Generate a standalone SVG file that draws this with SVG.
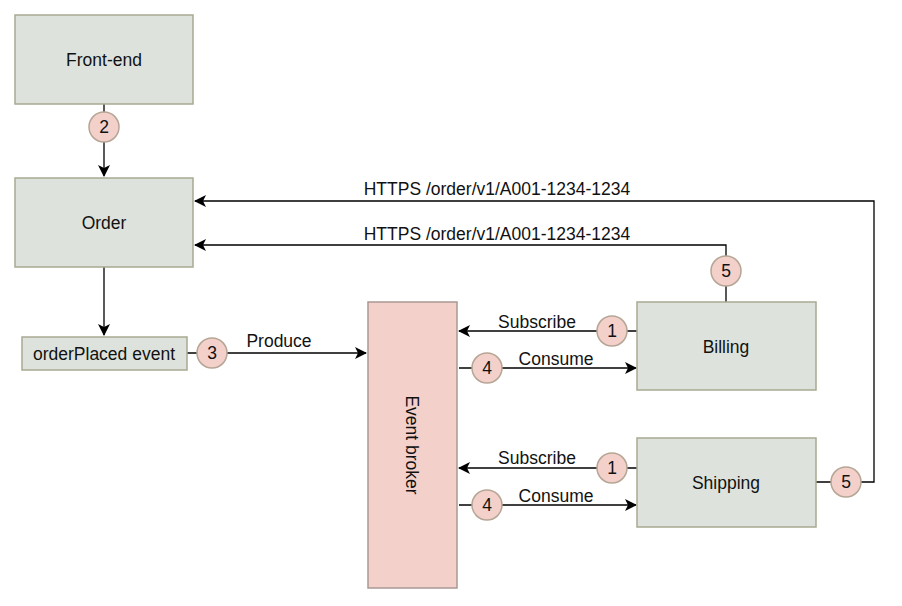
<svg xmlns="http://www.w3.org/2000/svg" width="902" height="606" viewBox="0 0 902 606">
<defs>
<marker id="arr" markerWidth="12" markerHeight="12" refX="11" refY="6" orient="auto" markerUnits="userSpaceOnUse">
<path d="M0,0 L12,6 L0,12 L3,6 Z" fill="#000"/>
</marker>
<style>
.box{fill:#dde3dc;stroke:#a9a991;stroke-width:1.5}
.broker{fill:#f4d0cb;stroke:#a99894;stroke-width:1.5}
.badge{fill:#f4d0cb;stroke:#b5a595;stroke-width:1.5}
.t{font-family:"Liberation Sans",Arial,sans-serif;font-size:17.5px;fill:#111;text-anchor:middle;dominant-baseline:central}
.edge{fill:none;stroke:#000;stroke-width:1.3}
</style>
</defs>
<rect width="902" height="606" fill="#fff"/>
<g id="connectors">
<path class="edge" d="M104,104 V176" marker-end="url(#arr)"/>
<path class="edge" d="M104,267 V335" marker-end="url(#arr)"/>
<path class="edge" d="M187,353 H366" marker-end="url(#arr)"/>
<path class="edge" d="M637,331 H459" marker-end="url(#arr)"/>
<path class="edge" d="M459,368 H636" marker-end="url(#arr)"/>
<path class="edge" d="M637,468 H459" marker-end="url(#arr)"/>
<path class="edge" d="M459,505 H636" marker-end="url(#arr)"/>
<path class="edge" d="M726,302 V245 H195" marker-end="url(#arr)"/>
<path class="edge" d="M816,482 H874 V201 H195" marker-end="url(#arr)"/>
<text class="t" x="279" y="341">Produce</text>
<text class="t" x="537" y="322">Subscribe</text>
<text class="t" x="556" y="359">Consume</text>
<text class="t" x="537" y="458">Subscribe</text>
<text class="t" x="556" y="496">Consume</text>
<text class="t" x="497" y="189">HTTPS /order/v1/A001-1234-1234</text>
<text class="t" x="497" y="234">HTTPS /order/v1/A001-1234-1234</text>
<g id="badge2"><circle class="badge" cx="104" cy="127" r="15"/><text class="t" x="104" y="127">2</text></g>
<g id="badge3"><circle class="badge" cx="212" cy="353" r="15"/><text class="t" x="212" y="353">3</text></g>
<g id="badge1a"><circle class="badge" cx="612" cy="331" r="15"/><text class="t" x="612" y="331">1</text></g>
<g id="badge4a"><circle class="badge" cx="487" cy="368" r="15"/><text class="t" x="487" y="368">4</text></g>
<g id="badge1b"><circle class="badge" cx="612" cy="468" r="15"/><text class="t" x="612" y="468">1</text></g>
<g id="badge4b"><circle class="badge" cx="487" cy="505" r="15"/><text class="t" x="487" y="505">4</text></g>
<g id="badge5a"><circle class="badge" cx="726" cy="271" r="15"/><text class="t" x="726" y="271">5</text></g>
<g id="badge5b"><circle class="badge" cx="846" cy="482" r="15"/><text class="t" x="846" y="482">5</text></g>
</g>
<g id="frontend"><rect class="box" x="15" y="15" width="178" height="89"/><text class="t" x="104" y="60">Front-end</text></g>
<g id="order"><rect class="box" x="15" y="178" width="178" height="89"/><text class="t" x="104" y="223">Order</text></g>
<g id="orderPlaced"><rect class="box" x="22" y="337" width="165" height="33"/><text class="t" x="104" y="354">orderPlaced event</text></g>
<g id="broker"><rect class="broker" x="368" y="302" width="89" height="286"/><text class="t" x="412" y="445" transform="rotate(90 412 445)">Event broker</text></g>
<g id="billing"><rect class="box" x="637" y="302" width="179" height="88"/><text class="t" x="726" y="347">Billing</text></g>
<g id="shipping"><rect class="box" x="637" y="438" width="179" height="89"/><text class="t" x="726" y="483">Shipping</text></g>
</svg>
